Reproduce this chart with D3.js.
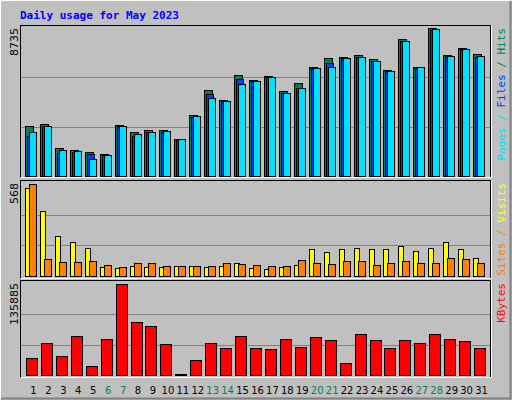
<!DOCTYPE html>
<html><head><meta charset="utf-8">
<script src="https://cdn.jsdelivr.net/npm/d3@7"></script>
<style>body{margin:0;background:#fff}</style>
</head><body><div id="chart"></div>
<script>
var days = d3.range(1, 32);
var weekends = [6, 7, 13, 14, 20, 21, 27, 28];
var hits = [2925,3043,1680,1561,1443,1324,2984,2569,2687,2687,2213,3577,5059,4466,5948,5651,5888,4999,5474,6422,6956,7015,7134,6896,6244,8082,6422,8735,7134,7549,7193];
var files = [2332,2925,1383,1443,1324,1265,2925,2332,2569,2569,2154,3458,4822,4406,5711,5592,5829,4881,5177,6363,6659,6956,7015,6778,6185,7963,6363,8615,7074,7489,7015];
var pages = [2569,2925,1561,1502,1028,1265,2925,2450,2569,2628,2213,3517,4584,4406,5414,5592,5829,4881,5177,6363,6422,6956,7015,6778,6185,7963,6422,8675,7074,7489,7074];
var visits = [543,400,246,209,172,55,49,62,55,55,62,62,55,62,80,49,43,55,68,166,148,166,172,166,166,185,154,172,209,166,111];
var sites = [568,105,86,86,92,68,55,80,80,62,62,62,62,80,74,68,62,62,98,80,74,92,92,68,80,92,80,80,111,105,80];
var kbytes = [25383,47780,28370,58232,13438,53752,135885,79134,73162,46287,1493,22397,47780,40316,58232,40316,38823,53752,41807,56738,52260,17917,61220,52260,40316,52260,47780,61220,53752,50765,40316];

var W = 512, H = 400;
var svg = d3.select("#chart").append("svg").attr("width", W).attr("height", H)
    .style("font-family", "'DejaVu Sans Mono', monospace");

// outer background + bevel
svg.append("rect").attr("width", W).attr("height", H).attr("fill", "#c0c0c0");
svg.append("path").attr("d", "M0.5,399.5V0.5H511.5").attr("stroke", "#fff").attr("fill", "none");
svg.append("path").attr("d", "M1,398.5H510.5V1").attr("stroke", "#808080").attr("stroke-width", 2).attr("fill", "none");

svg.append("text").attr("x", 20).attr("y", 19).attr("fill", "#0000ff")
    .attr("font-weight", "bold").attr("font-size", 11).text("Daily usage for May 2023");

var x = d3.scaleBand().domain(days).range([25, 488]);
var slot = x.bandwidth();

var panels = [
  {top: 25, bottom: 178, base: 176, peak: 28, max: 8735,
   series: [{v: hits, c: "#00805c", dx: 0, w: 8}, {v: files, c: "#0040ff", dx: 2, w: 7}, {v: pages, c: "#00e0ff", dx: 4, w: 7}],
   legend: [["Pages", "#00e0ff"], [" / ", "#00e0ff"], ["Files", "#0040ff"], [" / ", "#00805c"], ["Hits", "#00805c"]]},
  {top: 180, bottom: 279, base: 276, peak: 184, max: 568,
   series: [{v: visits, c: "#ffff00", dx: 0, w: 5}, {v: sites, c: "#ff8000", dx: 4, w: 7}],
   legend: [["Sites", "#ff8000"], [" / ", "#ff8000"], ["Visits", "#ffff00"]]},
  {top: 280, bottom: 378, base: 375, peak: 284, max: 135885,
   series: [{v: kbytes, c: "#ff0000", dx: 1, w: 11}],
   legend: [["KBytes", "#ff0000"]]}
];

panels.forEach(function(p){
    var y = d3.scaleLinear().domain([0, p.max]).range([p.base, p.peak]);
    var g = svg.append("g");
    g.append("rect").attr("x", 20.5).attr("y", p.top + 0.5).attr("width", 470).attr("height", p.bottom - p.top - 1)
        .attr("fill", "#c0c0c0").attr("stroke", "#000");
    g.append("path").attr("d", "M20.5," + (p.bottom - 0.5) + "H491.5V" + (p.top + 0.5))
        .attr("stroke", "#fff").attr("fill", "none");
    [1/3, 2/3].forEach(function(f){
        var gy = Math.round(y(p.max * f)) + 0.5;
        g.append("line").attr("x1", 21).attr("x2", 490).attr("y1", gy).attr("y2", gy).attr("stroke", "#808080");
    });
    p.series.forEach(function(s){
        g.selectAll(null).data(days).enter().append("rect")
            .attr("x", function(d){ return Math.round(x(d)) + s.dx + 0.5; })
            .attr("y", function(d){ return Math.round(y(s.v[d - 1])) + 0.5; })
            .attr("width", s.w)
            .attr("height", function(d){ return Math.max(0, p.base - Math.round(y(s.v[d - 1]))); })
            .attr("fill", s.c).attr("stroke", "#000");
    });
    g.append("text").attr("transform", "translate(18," + (p.top + 3) + ") rotate(-90)")
        .attr("text-anchor", "end").attr("font-size", 11).attr("fill", "#000")
        .style("font-family", "'DejaVu Sans', sans-serif").text(p.max);
    // legend reads bottom-to-top, ending near panel top
    var t = g.append("text").attr("transform", "translate(505," + (p.top + 3) + ") rotate(-90)")
        .attr("font-size", 11).attr("text-anchor", "end");
    p.legend.forEach(function(l){
        t.append("tspan").attr("fill", l[1]).text(l[0]);
    });
});

svg.selectAll(".day").data(days).enter().append("text")
    .attr("x", function(d){ return x(d) + slot / 2 + 1; })
    .attr("y", 394).attr("text-anchor", "middle").attr("font-size", 10)
    .style("font-family", "'DejaVu Sans', sans-serif")
    .attr("fill", function(d){ return weekends.indexOf(d) >= 0 ? "#00805c" : "#000"; })
    .text(function(d){ return d; });
</script></body></html>
